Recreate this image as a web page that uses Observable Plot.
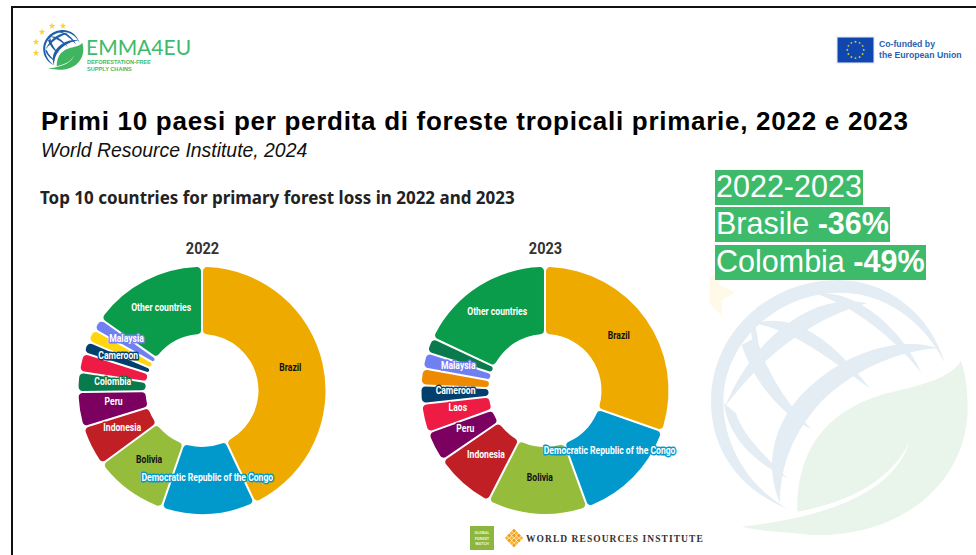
<!DOCTYPE html>
<html lang="it">
<head>
<meta charset="utf-8">
<title>Primi 10 paesi per perdita di foreste tropicali primarie</title>
<script src="https://cdn.jsdelivr.net/npm/d3@7"></script>
<script src="https://cdn.jsdelivr.net/npm/@observablehq/plot@0.6"></script>
<style>
  html, body { margin: 0; padding: 0; background: #fff; }
  body { position: relative; width: 976px; height: 555px; overflow: hidden; font-family: "Liberation Sans", Arial, sans-serif; }
  .abs { position: absolute; white-space: nowrap; }
  .frame { left: 11px; top: 6px; right: -4px; bottom: -4px; border-left: 2px solid #111; border-top: 2px solid #111; }
  .tag { left: 715px; height: 35px; line-height: 33px; background: #3DBB6A; color: #fff; font-size: 30.5px; padding: 0 1px; }
  svg.art { position: absolute; overflow: visible; }
</style>
</head>
<body>
<svg class="art" id="watermark" style="left:700px;top:270px" width="276" height="285" viewBox="0 0 828 855"></svg>
<div class="abs frame"></div>

<svg class="art" id="logo" style="left:0;top:0" width="200" height="80"></svg>
<div class="abs" style="left:86px;top:34px;font:400 21px/25px Lato,sans-serif;color:#3DBB6A">EMMA4EU</div>
<div class="abs" style="left:87px;top:59px;font:700 5.6px/6.6px 'Liberation Sans',sans-serif;color:#3DBB6A">DEFORESTATION-FREE<br>SUPPLY CHAINS</div>

<svg class="art" id="flag" style="left:836px;top:36px" width="39" height="28"></svg>
<div class="abs" style="left:879px;top:39px;font:700 8.7px/10.5px 'Liberation Sans',sans-serif;color:#2A5FB4">Co-funded by<br>the European Union</div>

<div class="abs" style="left:41px;top:106px;font:700 26px/30px 'Liberation Sans',sans-serif;color:#000;letter-spacing:.72px">Primi 10 paesi per perdita di foreste tropicali primarie, 2022 e 2023</div>
<div class="abs" style="left:41px;top:139px;font:italic 400 19.4px/22px 'Liberation Sans',sans-serif;color:#111">World Resource Institute, 2024</div>
<div class="abs" style="left:40px;top:185px;font:700 17.5px/24px 'Noto Sans',sans-serif;color:#222;transform-origin:0 0;transform:scaleX(.97)">Top 10 countries for primary forest loss in 2022 and 2023</div>

<div class="abs tag" style="top:170px">2022-2023</div>
<div class="abs tag" style="top:207px">Brasile <b>-36%</b></div>
<div class="abs tag" style="top:245px">Colombia <b>-49%</b></div>

<div id="donut2022" class="abs" style="left:52px;top:241px"></div>
<div id="donut2023" class="abs" style="left:395px;top:241px"></div>

<svg class="art" id="gfw" style="left:470px;top:526px" width="25" height="25"></svg>
<svg class="art" id="wri" style="left:504px;top:528px" width="20" height="20"></svg>
<div class="abs" style="left:526px;top:533px;font:700 9.5px/12px 'Liberation Serif',serif;letter-spacing:1.05px;color:#333">WORLD RESOURCES INSTITUTE</div>

<script>
// Share of tropical primary forest loss per country, in percent.
const countries2022 = ["Brazil", "Democratic Republic of the Congo", "Bolivia", "Indonesia", "Peru", "Colombia", "Laos", "Cameroon", "Papua New Guinea", "Malaysia", "Other countries"];
const shares2022 = [43.0, 12.3, 9.6, 5.3, 4.6, 2.6, 2.5, 1.6, 1.7, 1.6, 15.2];
const colors2022 = ["#EFAA00", "#0199CC", "#96BC3C", "#C01F25", "#7B0060", "#087A4C", "#EE1B45", "#023F6D", "#FFD60E", "#7080F2", "#0A9B4B"];
const unlabelled2022 = ["Laos", "Papua New Guinea"];

const countries2023 = ["Brazil", "Democratic Republic of the Congo", "Bolivia", "Indonesia", "Peru", "Laos", "Cameroon", "Papua New Guinea", "Malaysia", "Colombia", "Other countries"];
const shares2023 = [30.3, 14.1, 13.1, 7.9, 4.0, 3.8, 2.4, 2.2, 2.1, 2.0, 18.0];
const colors2023 = ["#EFAA00", "#0199CC", "#96BC3C", "#C01F25", "#7B0060", "#EE1B45", "#023F6D", "#EE8A00", "#7080F2", "#087A4C", "#0A9B4B"];
const unlabelled2023 = ["Papua New Guinea", "Colombia"];

const darkInk = ["Brazil", "Bolivia"];
const labelFont = "Roboto, sans-serif";

// Ring geometry in the plot's own units, which the x and y scales map to pixels.
const outerRadius = 123.5;
const innerRadius = 56.5;
const labelRadius = 90;

function squeeze(factor) {
  return function (index, scales, values, dimensions, context, next) {
    const g = next(index, scales, values, dimensions, context);
    g.querySelectorAll("text").forEach((t) => {
      t.setAttribute("transform", `${t.getAttribute("transform") || ""} scale(${factor},1)`);
    });
    return g;
  };
}

function donut(year, countries, shares, colors, unlabelled) {
  const arcs = d3.pie().sort(null).value((d) => d)(shares);
  const rows = arcs.map((a, i) => {
    const mid = (a.startAngle + a.endAngle) / 2;
    return {
      country: countries[i],
      startAngle: a.startAngle,
      endAngle: a.endAngle,
      lx: labelRadius * Math.sin(mid),
      ly: labelRadius * Math.cos(mid)
    };
  });
  const ring = d3.arc().padAngle(0.015).cornerRadius(4);

  // Dots anchor each slice in the scales; the render hook draws them as rounded ring sectors.
  const sectors = Plot.dot(rows, {
    x: "lx",
    y: "ly",
    fill: "country",
    render(index, scales, values) {
      const g = d3.create("svg:g");
      const unit = scales.x(1) - scales.x(0);
      for (const i of index) {
        g.append("path")
          .attr("transform", `translate(${scales.x(0)},${scales.y(0)})`)
          .attr("fill", values.fill[i])
          .attr("d", ring({
            innerRadius: innerRadius * unit,
            outerRadius: outerRadius * unit,
            startAngle: rows[i].startAngle,
            endAngle: rows[i].endAngle
          }));
      }
      return g.node();
    }
  });

  // Halo-backed slice names, squeezed horizontally to a condensed width.
  const names = Plot.text(rows.filter((d) => !unlabelled.includes(d.country)), {
    x: "lx",
    y: "ly",
    text: "country",
    dy: -3.5,
    fontSize: 10,
    fontWeight: 700,
    fontFamily: labelFont,
    fill: { value: (d) => (darkInk.includes(d.country) ? "#111" : "#fff"), scale: null },
    stroke: "country",
    strokeWidth: 3,
    strokeLinejoin: "round",
    paintOrder: "stroke",
    render: squeeze(0.86)
  });

  const heading = Plot.text([String(year)], {
    frameAnchor: "top",
    dy: 1,
    text: (d) => d,
    fontSize: 16.5,
    fontWeight: 700,
    fontFamily: labelFont,
    fill: "#333",
    render: squeeze(0.88)
  });

  return Plot.plot({
    width: 300,
    height: 299,
    margin: 0,
    x: { domain: [-150, 150], range: [0, 300], axis: null },
    y: { domain: [-149.5, 149.5], range: [299, 0], axis: null },
    color: { domain: countries, range: colors },
    style: { background: "transparent", overflow: "visible" },
    marks: [sectors, names, heading]
  });
}

document.getElementById("donut2022").append(donut(2022, countries2022, shares2022, colors2022, unlabelled2022));
document.getElementById("donut2023").append(donut(2023, countries2023, shares2023, colors2023, unlabelled2023));

// Branding artwork: globe and leaf emblem, EU flag, publisher marks.
function star(cx, cy, R, r, rot = -90) {
  const pts = [];
  for (let k = 0; k < 10; k++) {
    const a = (rot + k * 36) * Math.PI / 180, q = k % 2 ? r : R;
    pts.push(`${cx + q * Math.cos(a)},${cy + q * Math.sin(a)}`);
  }
  return pts.join(" ");
}
function emblem(blue, green) {
  const globe = [
    "M735,280C690,130 560,30 415,30C200,30 33,195 33,395C33,540 120,660 265,718C130,640 70,510 70,395C70,220 230,70 415,68C550,66 670,150 735,280Z",
    "M715,235C600,195 420,245 295,385C215,480 195,590 240,700C240,600 270,505 350,410C440,310 590,240 715,235Z",
    "M510,355C420,240 300,120 165,160C290,185 400,275 510,355Z",
    "M165,160C145,175 155,220 175,240C175,210 170,185 165,160Z",
    "M665,310C600,170 470,60 345,70C460,110 580,200 665,310Z",
    "M500,100C360,65 170,180 75,410C130,340 260,170 500,100Z",
    "M125,225C165,345 250,435 335,478C280,420 200,320 170,200Z",
    "M72,400C85,500 160,575 262,625C190,555 125,490 108,430Z"
  ];
  const leaf = "M783,272C750,330 640,350 560,370C420,410 290,500 292,725C430,700 570,640 628,515C590,640 440,735 125,770C220,790 280,785 330,795C600,805 803,640 803,410C803,350 795,310 783,272Z";
  return globe.map((d) => `<path fill="${blue}" d="${d}"/>`).join("") + `<path fill="${green}" d="${leaf}"/>`;
}
document.getElementById("watermark").innerHTML =
  `<polygon fill="#FFFAE8" points="28,25 42,12 62,45 105,68 65,90 68,140 28,100"/>` + emblem("#E4ECF4", "#E9F4EB");
document.getElementById("logo").innerHTML =
  [[36, 42], [36, 53], [42, 32], [52, 26], [63, 26]].map(([x, y]) => `<polygon fill="#F7D43C" points="${star(x, y, 3.4, 1.4)}"/>`).join("") +
  `<g transform="translate(41.5,28.5) scale(.052)">${emblem("#1F5FA8", "#3FB55F")}</g>`;

let flag = `<rect width="39" height="28" fill="#EEF1F6"/><rect x="1.5" y="1.5" width="36" height="25" fill="#0F47AF"/>`;
for (let k = 0; k < 12; k++) {
  const a = k * Math.PI / 6;
  flag += `<polygon fill="#E3D932" points="${star(19.5 + 8.2 * Math.cos(a), 14 + 8.2 * Math.sin(a), 1.4, .6)}"/>`;
}
document.getElementById("flag").innerHTML = flag;

document.getElementById("gfw").innerHTML =
  `<rect width="24" height="24" fill="#8DB640"/>` +
  ["GLOBAL", "FOREST", "WATCH"].map((t, i) => `<text x="12" y="${8 + i * 5.6}" text-anchor="middle" font-size="4" font-weight="700" font-family="Roboto,sans-serif" fill="#E9F2D3">${t}</text>`).join("");

let knot = "";
for (let r = 0; r < 4; r++) for (let c = 0; c < 4; c++) {
  const x = 10 + (c - r) * 2.4, y = 10 + (c + r - 3) * 2.4;
  knot += `<rect x="${x - 1.5}" y="${y - 1.5}" width="3" height="3" transform="rotate(45 ${x} ${y})" fill="${(r + c) % 2 ? "#F7B733" : "#F59A1B"}"/>`;
}
document.getElementById("wri").innerHTML = knot;
</script>
</body>
</html>
